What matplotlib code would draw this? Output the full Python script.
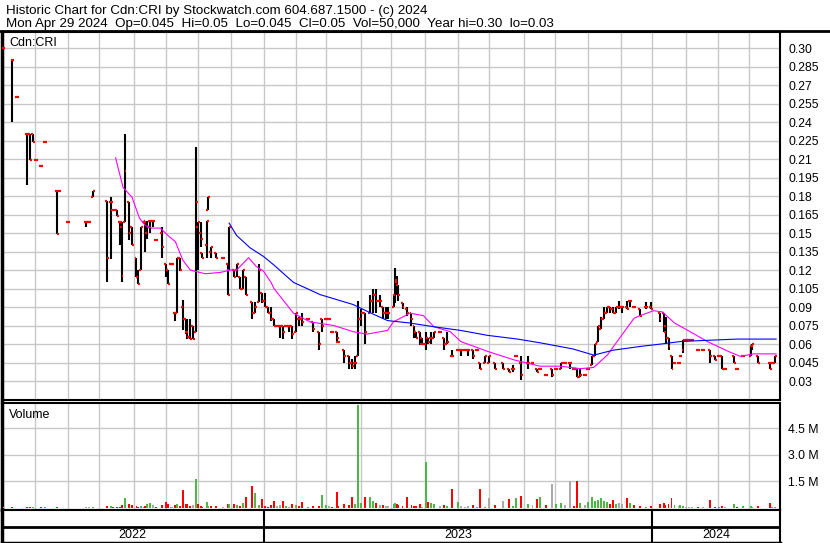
#!/usr/bin/env python3
# -*- coding: utf-8 -*-

import pandas as pd
import matplotlib
matplotlib.use("Agg")
import matplotlib.pyplot as plt
from matplotlib.lines import Line2D

# ====== DATA ======
# trading-day number counted from Mon 2022-05-02
bar_day = [1, 7, 10, 17, 19, 21, 23, 26, 29, 37,
           38, 44, 56, 58, 61, 70, 73, 74, 77, 79,
           80, 82, 85, 87, 90, 91, 93, 95, 96, 97,
           99, 101, 103, 107, 110, 111, 113, 114, 116, 117,
           119, 121, 123, 124, 126, 128, 130, 131, 133, 134,
           137, 138, 140, 143, 148, 151, 152, 155, 157, 159,
           161, 163, 167, 169, 172, 174, 176, 178, 180, 182,
           184, 186, 188, 190, 192, 194, 197, 199, 201, 205,
           208, 212, 214, 217, 219, 221, 224, 225, 229, 232,
           234, 236, 238, 240, 243, 246, 248, 250, 253, 255,
           257, 258, 262, 263, 264, 265, 268, 271, 274, 276,
           277, 280, 281, 284, 285, 287, 289, 293, 296, 298,
           301, 305, 307, 310, 312, 315, 318, 320, 323, 326,
           330, 335, 339, 342, 344, 347, 352, 355, 358, 360,
           364, 368, 371, 374, 377, 380, 383, 385, 387, 390,
           392, 395, 397, 399, 401, 403, 405, 407, 409, 411,
           413, 415, 418, 420, 423, 427, 431, 434, 440, 443,
           444, 446, 448, 450, 453, 454, 456, 458, 460, 462,
           466, 469, 474, 477, 480, 482, 484, 490, 492, 496,
           501, 502, 506, 514, 515, 517]

bar_open = [.300, .290, .260, .230, .230, .230, .209, .204, .224, .184,
            .184, .159, .159, .159, .179, .176, .175, .169, .169, .159,
            .155, .159, .175, .155, .130, .114, .120, .159, .160, .150,
            .160, .160, .144, .150, .125, .120, .125, .125, .085, .085,
            .130, .090, .080, .070, .066, .075, .070, .155, .150, .134,
            .140, .169, .135, .134, .130, .125, .120, .120, .120, .114,
            .105, .114, .094, .085, .094, .101, .095, .090, .085, .080,
            .075, .075, .075, .075, .075, .075, .070, .080, .080, .080,
            .078, .070, .080, .080, .080, .070, .070, .062, .055, .050,
            .045, .045, .050, .080, .085, .085, .095, .100, .095, .090,
            .085, .085, .090, .100, .110, .108, .093, .088, .085, .075,
            .070, .070, .065, .060, .065, .065, .065, .070, .065, .060,
            .050, .055, .055, .055, .055, .055, .055, .045, .045, .045,
            .045, .045, .040, .040, .050, .045, .045, .045, .040, .040,
            .035, .040, .040, .040, .045, .045, .040, .040, .033, .035,
            .040, .043, .050, .062, .072, .080, .085, .090, .088, .085,
            .090, .090, .090, .095, .090, .088, .090, .090, .085, .085,
            .075, .065, .050, .045, .045, .050, .055, .063, .063, .063,
            .055, .055, .055, .050, .050, .050, .040, .050, .040, .050,
            .050, .058, .050, .045, .045, .045]

bar_high = [.300, .290, .260, .230, .230, .230, .209, .204, .224, .184,
            .184, .159, .159, .159, .184, .176, .179, .169, .169, .159,
            .159, .230, .175, .155, .130, .120, .155, .159, .160, .160,
            .160, .160, .144, .155, .125, .120, .125, .125, .085, .130,
            .130, .096, .080, .080, .080, .075, .220, .159, .159, .134,
            .160, .179, .139, .134, .130, .125, .155, .120, .125, .114,
            .120, .114, .094, .094, .125, .101, .101, .090, .090, .080,
            .075, .075, .075, .075, .075, .075, .085, .082, .085, .080,
            .078, .070, .080, .080, .080, .070, .070, .062, .055, .050,
            .048, .050, .095, .088, .085, .100, .105, .105, .100, .090,
            .090, .090, .100, .122, .115, .108, .093, .090, .085, .075,
            .070, .070, .065, .070, .065, .070, .070, .070, .065, .070,
            .055, .055, .055, .055, .055, .055, .055, .045, .050, .050,
            .045, .045, .040, .043, .050, .050, .050, .045, .040, .040,
            .035, .040, .040, .045, .045, .045, .040, .040, .040, .035,
            .040, .050, .060, .075, .082, .090, .090, .090, .090, .090,
            .095, .090, .095, .095, .090, .088, .094, .094, .085, .085,
            .082, .065, .050, .045, .045, .050, .063, .063, .063, .063,
            .055, .055, .055, .050, .050, .050, .040, .050, .040, .050,
            .058, .060, .050, .045, .045, .050]

bar_low = [.258, .240, .260, .189, .209, .224, .209, .204, .224, .149,
           .184, .159, .155, .159, .179, .110, .129, .169, .164, .140,
           .110, .159, .144, .140, .114, .109, .120, .159, .135, .145,
           .150, .155, .144, .130, .114, .109, .125, .125, .079, .085,
           .119, .071, .068, .064, .064, .064, .070, .120, .139, .130,
           .130, .169, .130, .130, .130, .100, .120, .114, .114, .105,
           .105, .100, .080, .085, .094, .093, .090, .085, .079, .075,
           .075, .065, .064, .075, .070, .064, .070, .075, .075, .080,
           .070, .055, .070, .080, .080, .070, .062, .062, .045, .040,
           .040, .040, .050, .075, .060, .085, .085, .085, .090, .080,
           .080, .080, .090, .093, .100, .095, .088, .083, .075, .065,
           .065, .059, .060, .055, .060, .060, .065, .070, .055, .060,
           .050, .055, .050, .055, .050, .048, .055, .040, .045, .045,
           .040, .040, .037, .037, .050, .031, .040, .045, .037, .040,
           .035, .033, .040, .040, .045, .040, .040, .033, .033, .035,
           .040, .043, .050, .062, .072, .080, .085, .085, .085, .085,
           .088, .085, .088, .090, .090, .083, .088, .088, .078, .070,
           .060, .055, .040, .045, .045, .050, .053, .063, .063, .063,
           .055, .055, .045, .047, .050, .040, .040, .045, .040, .050,
           .050, .055, .045, .040, .045, .045]

bar_close = [.300, .290, .260, .230, .209, .224, .209, .204, .224, .149,
             .184, .159, .159, .159, .184, .130, .175, .169, .164, .159,
             .115, .200, .150, .140, .114, .109, .155, .159, .150, .155,
             .160, .160, .144, .139, .120, .109, .125, .125, .085, .130,
             .120, .080, .070, .066, .064, .064, .175, .159, .145, .130,
             .160, .179, .139, .130, .130, .100, .155, .114, .125, .105,
             .120, .100, .085, .090, .120, .095, .090, .085, .080, .075,
             .075, .075, .070, .075, .075, .068, .085, .080, .078, .080,
             .072, .060, .075, .080, .080, .070, .065, .062, .050, .045,
             .042, .045, .080, .085, .070, .095, .100, .095, .095, .085,
             .085, .085, .100, .112, .108, .100, .090, .085, .080, .070,
             .065, .060, .060, .065, .062, .065, .070, .070, .060, .062,
             .050, .055, .055, .055, .055, .050, .055, .040, .050, .050,
             .040, .040, .037, .040, .050, .035, .045, .045, .037, .040,
             .035, .035, .040, .045, .045, .045, .040, .033, .035, .035,
             .040, .050, .060, .075, .080, .085, .090, .088, .085, .090,
             .090, .090, .088, .095, .090, .083, .090, .088, .080, .070,
             .065, .058, .040, .045, .045, .050, .063, .063, .063, .063,
             .055, .055, .050, .047, .050, .040, .040, .045, .040, .050,
             .058, .060, .045, .040, .045, .050]

# volume in thousands of shares
bar_vol = [60, 30, 20, 40, 30, 40, 20, 30, 50, 40,
           20, 20, 40, 30, 50, 120, 90, 40, 50, 70,
           150, 560, 200, 150, 100, 60, 130, 40, 120, 200,
           300, 150, 60, 180, 350, 250, 80, 60, 150, 200,
           100, 1000, 250, 200, 120, 150, 1640, 200, 120, 80,
           350, 100, 90, 100, 60, 200, 250, 250, 150, 100,
           300, 650, 1250, 850, 150, 500, 120, 80, 150, 400,
           100, 150, 400, 120, 80, 200, 150, 100, 350, 60,
           100, 120, 750, 150, 100, 80, 900, 100, 200, 150,
           600, 250, 5800, 300, 600, 600, 400, 300, 150, 150,
           100, 100, 200, 300, 250, 150, 100, 600, 150, 100,
           120, 200, 80, 2600, 350, 300, 200, 100, 150, 100,
           1100, 350, 100, 80, 100, 150, 80, 1050, 80, 550,
           150, 400, 500, 100, 550, 700, 200, 150, 500, 600,
           150, 1360, 200, 300, 150, 1500, 100, 1500, 300, 150,
           350, 600, 400, 450, 550, 400, 350, 200, 450, 250,
           300, 200, 550, 300, 150, 100, 80, 100, 200, 300,
           150, 200, 550, 150, 100, 150, 100, 80, 80, 60,
           80, 60, 450, 80, 60, 100, 80, 250, 80, 100,
           120, 80, 100, 300, 80, 50]

# short moving average (magenta)
ma_short_day = [76, 81, 87, 92, 96, 100, 106, 111, 116, 121,
                126, 129, 136, 146, 153, 157, 165, 170, 175, 180,
                182, 195, 206, 222, 235, 244, 258, 262, 273, 282,
                289, 300, 307, 325, 343, 360, 374, 387, 396, 405,
                414, 423, 427, 436, 442, 450, 459, 472, 486, 494,
                503, 518]
ma_short_val = [.211, .187, .179, .162, .156, .154, .154, .148, .143, .128,
                .120, .119, .117, .118, .120, .120, .130, .123, .119, .110,
                .105, .085, .078, .075, .070, .068, .071, .078, .085, .083,
                .074, .070, .062, .054, .047, .042, .042, .040, .041, .051,
                .066, .081, .083, .087, .086, .077, .071, .062, .054, .050,
                .052, .052]

# long moving average (blue)
ma_long_day = [152, 157, 166, 175, 182, 195, 213, 235, 247, 258,
               273, 289, 307, 325, 345, 360, 382, 396, 409, 427,
               441, 454, 472, 492, 518]
ma_long_val = [.158, .148, .138, .131, .124, .110, .100, .092, .085, .079,
               .077, .074, .071, .067, .064, .061, .056, .051, .055, .058,
               .060, .062, .063, .064, .064]

price_ticks = [0.03, 0.045, 0.06, 0.075, 0.09, 0.105, 0.12, 0.135, 0.15, 0.165,
               0.18, 0.195, 0.21, 0.225, 0.24, 0.255, 0.27, 0.285, 0.30]
price_labels = ["0.03", "0.045", "0.06", "0.075", "0.09", "0.105", "0.12", "0.135",
                "0.15", "0.165", "0.18", "0.195", "0.21", "0.225", "0.24", "0.255",
                "0.27", "0.285", "0.30"]
vol_ticks = [1.5, 3.0, 4.5]
vol_labels = ["1.5 M", "3.0 M", "4.5 M"]

title_line1 = "Historic Chart for Cdn:CRI by Stockwatch.com 604.687.1500 - (c) 2024"
title_line2 = ("Mon Apr 29 2024  Op=0.045  Hi=0.05  Lo=0.045  Cl=0.05  "
               "Vol=50,000  Year hi=0.30  lo=0.03")

START = "2022-05-02"
N_DAYS = 521

# ====== LAYOUT ======
W, H = 830, 543
plt.rcParams['font.family'] = ['Liberation Sans', 'DejaVu Sans']
GRID = "#c8c8c8"


def px_rect(x0, y0, x1, y1):
    return [x0 / W, 1 - y1 / H, (x1 - x0) / W, (y1 - y0) / H]


def style_axes(ax):
    ax.set_xlim(0, 520.6)
    ax.tick_params(axis="both", length=0)
    ax.set_xticklabels([])
    for side in ("top", "right", "bottom"):
        ax.spines[side].set_color("black")
        ax.spines[side].set_linewidth(1.5)
    ax.spines["left"].set_linewidth(2.5)


days = pd.bdate_range(START, periods=N_DAYS)
month_idx = [i for i in range(1, N_DAYS) if days[i].month != days[i - 1].month]
year_idx = [i for i in range(1, N_DAYS) if days[i].year != days[i - 1].year]

fig = plt.figure(figsize=(W / 100, H / 100), dpi=100)

# ---- price panel ----
ax_p = fig.add_axes(px_rect(2, 32, 780, 400))
style_axes(ax_p)
ax_p.set_ylim(0.0146, 0.313)
ax_p.set_xticks(month_idx)
ax_p.set_yticks(price_ticks)
ax_p.yaxis.tick_right()
ax_p.set_yticklabels(price_labels, fontsize=8.8)
ax_p.tick_params(axis="y", pad=6)
ax_p.set_axisbelow(True)
ax_p.grid(True, color=GRID, linewidth=1.0)

ax_p.vlines(bar_day, bar_low, bar_high, color="black", linewidth=1.5, zorder=3)
ax_p.hlines(bar_open, [d - 1.3 for d in bar_day], bar_day, color="red",
            linewidth=1.6, zorder=4)
ax_p.hlines(bar_close, bar_day, [d + 1.3 for d in bar_day], color="red",
            linewidth=1.6, zorder=4)
ax_p.plot(ma_short_day, ma_short_val, color="#ff00ff", linewidth=0.8, zorder=5)
ax_p.plot(ma_long_day, ma_long_val, color="#0000ff", linewidth=0.8, zorder=5)

# ---- volume panel ----
ax_v = fig.add_axes(px_rect(2, 403, 780, 510))
style_axes(ax_v)
ax_v.set_ylim(-0.113, 5.94)
ax_v.set_xticks(month_idx)
ax_v.set_yticks(vol_ticks)
ax_v.yaxis.tick_right()
ax_v.set_yticklabels(vol_labels, fontsize=8.8)
ax_v.tick_params(axis="y", pad=6)
ax_v.set_axisbelow(True)
ax_v.grid(True, color=GRID, linewidth=1.0)

vol_colors = []
prev = None
for c in bar_close:
    if prev is None or c == prev:
        vol_colors.append("#a9a9a9")
    elif c > prev:
        vol_colors.append("#4cb848")
    else:
        vol_colors.append("#ff0000")
    prev = c
ax_v.bar(bar_day, [v / 1000 for v in bar_vol], width=1.3, color=vol_colors,
         linewidth=0, zorder=3)

# ---- date band ----
ax_d = fig.add_axes(px_rect(2, 510, 780, 543))
style_axes(ax_d)
ax_d.set_ylim(33, 0)
ax_d.set_xticks([])
ax_d.set_yticks([])
ax_d.spines["bottom"].set_linewidth(2.5)
ax_d.axhline(16.5, color="black", linewidth=2)
ax_d.vlines(year_idx, 0, 33, color="black", linewidth=1.5)
edges = [0] + year_idx + [520.6]
for i, yr in enumerate(sorted({d.year for d in days})):
    ax_d.text((edges[i] + edges[i + 1]) / 2, 25.5, str(yr), ha="center",
              va="center", fontsize=9)

# ---- header ----
fig.add_artist(Line2D([0, 1], [1 - 31 / H] * 2, transform=fig.transFigure,
                      color="black", linewidth=2))
fig.text(6 / W, 1 - 14 / H, title_line1, fontsize=9.6, va="baseline")
fig.text(6 / W, 1 - 27.5 / H, title_line2, fontsize=9.6, va="baseline")
fig.text(9 / W, 1 - 46 / H, "Cdn:CRI", fontsize=9, va="baseline")
fig.text(9 / W, 1 - 418 / H, "Volume", fontsize=9, va="baseline")

fig.savefig("out.png", dpi=100)
plt.close(fig)
